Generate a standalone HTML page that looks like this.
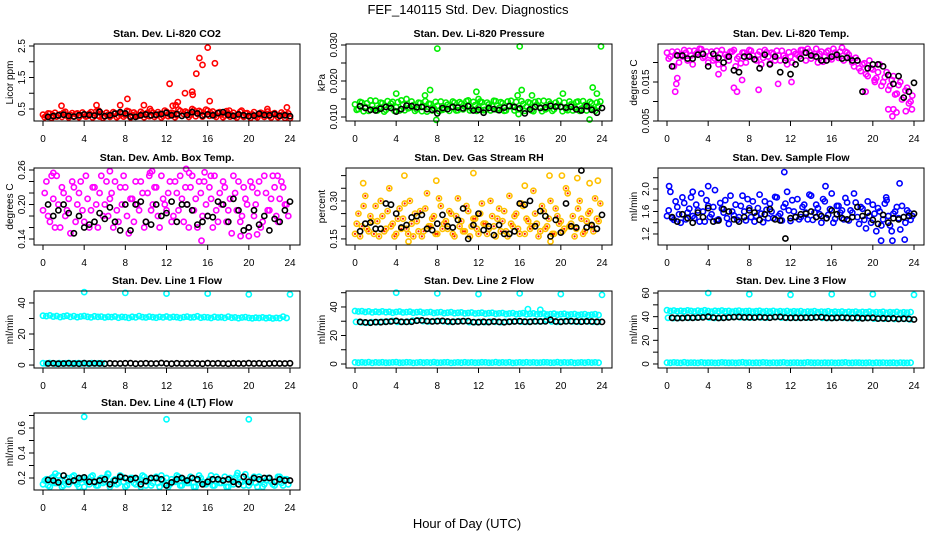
<!DOCTYPE html>
<html><head><meta charset="utf-8"><title>FEF_140115 Std. Dev. Diagnostics</title>
<style>
html,body{margin:0;padding:0;background:#fff;}
svg{display:block;font-family:"Liberation Sans",Arial,sans-serif;}
</style></head>
<body>
<svg id="chart" width="936" height="540" viewBox="0 0 936 540" xmlns="http://www.w3.org/2000/svg">
<rect x="0" y="0" width="936" height="540" fill="#fff"/>
<text x="468" y="14" font-size="13" text-anchor="middle">FEF_140115  Std. Dev. Diagnostics</text>
<text x="467" y="528" font-size="13" text-anchor="middle">Hour of Day (UTC)</text>
<g id="panels"></g>
</svg>
<script>
// ---------- DATA ----------
const xTicks = [0,4,8,12,16,20,24];

const co2Red = [0.32,0.28,0.35,0.30,0.26,0.33,0.38,0.29,0.31,0.27,0.36,0.30,0.33,0.28,0.40,0.31,0.29,0.35,0.27,0.32,0.30,0.37,0.28,0.34,0.31,0.42,0.30,0.33,0.29,0.36,0.31,0.27,0.38,0.30,0.34,0.28,0.41,0.32,0.36,0.30,0.44,0.34,0.39,0.31,0.46,0.35,0.40,0.33,0.45,0.36,0.30,0.38,0.33,0.29,0.35,0.31,0.28,0.34,0.30,0.36,0.29,0.33,0.27,0.32,0.35,0.30,0.28,0.34,0.31,0.29,0.33,0.30];
const co2RedB = [0.24,0.36,0.22,0.38,0.30,0.25,0.41,0.23,0.37,0.34,0.24,0.39,0.26,0.35,0.23,0.42,0.26,0.22,0.38,0.25,0.40,0.24,0.36,0.26,0.44,0.23,0.39,0.27,0.41,0.24,0.38,0.43,0.25,0.40,0.23,0.45,0.27,0.38,0.24,0.48,0.28,0.42,0.25,0.50,0.27,0.44,0.26,0.48,0.28,0.42,0.25,0.40,0.24,0.43,0.26,0.38,0.23,0.41,0.25,0.37,0.22,0.40,0.24,0.38,0.25,0.42,0.23,0.37,0.24,0.39,0.22,0.36];
const co2OutHours = [1.8,5.2,5.4,7.5,8.2,9.8,10.4,12.3,12.6,12.9,13.1,13.8,14.5,14.55,14.9,15.2,15.5,16.0,16.2,16.7,18.1,19.3,21.8,23.7,24.0];
const co2OutVals = [0.6,0.62,0.45,0.62,0.82,0.62,0.5,1.3,0.6,0.62,0.72,1.0,1.05,0.95,1.62,2.12,1.9,2.45,0.75,1.95,0.45,0.45,0.5,0.55,0.2];
const co2Black = [0.25,0.27,0.30,0.32,0.28,0.26,0.30,0.33,0.31,0.29,0.41,0.27,0.30,0.35,0.40,0.36,0.26,0.25,0.30,0.33,0.30,0.32,0.34,0.38,0.30,0.34,0.28,0.31,0.40,0.36,0.29,0.33,0.30,0.37,0.40,0.31,0.28,0.33,0.30,0.27,0.29,0.35,0.31,0.30,0.34,0.28,0.30,0.27];

const presGreen = [0.0135,0.0122,0.0140,0.0128,0.0117,0.0132,0.0145,0.0125,0.0138,0.0120,0.0130,0.0142,0.0127,0.0118,0.0135,0.0150,0.0126,0.0133,0.0121,0.0139,0.0128,0.0115,0.0136,0.0124,0.0131,0.0143,0.0122,0.0134,0.0126,0.0140,0.0119,0.0137,0.0129,0.0146,0.0123,0.0133,0.0127,0.0141,0.0120,0.0135,0.0130,0.0144,0.0125,0.0138,0.0118,0.0132,0.0128,0.0142,0.0122,0.0136,0.0129,0.0139,0.0116,0.0134,0.0127,0.0145,0.0124,0.0137,0.0121,0.0131,0.0128,0.0140,0.0119,0.0135,0.0126,0.0143,0.0123,0.0133,0.0129,0.0138,0.0117,0.0130];
const presGreenB = [0.0120,0.0142,0.0116,0.0138,0.0146,0.0121,0.0118,0.0140,0.0115,0.0144,0.0137,0.0117,0.0141,0.0146,0.0119,0.0124,0.0143,0.0117,0.0140,0.0116,0.0144,0.0137,0.0118,0.0142,0.0116,0.0120,0.0140,0.0117,0.0143,0.0118,0.0141,0.0121,0.0144,0.0118,0.0142,0.0117,0.0143,0.0119,0.0140,0.0118,0.0145,0.0120,0.0141,0.0117,0.0143,0.0145,0.0118,0.0121,0.0144,0.0117,0.0141,0.0118,0.0142,0.0144,0.0116,0.0121,0.0143,0.0117,0.0140,0.0145,0.0116,0.0122,0.0143,0.0118,0.0141,0.0117,0.0144,0.0118,0.0142,0.0121,0.0140,0.0143];
const presOutHours = [4.0,6.8,7.3,8.0,7.9,11.8,12.0,15.8,15.9,16.0,16.2,17.2,20.2,22.8,23.1,23.5,23.9];
const presOutVals = [0.0165,0.0160,0.0175,0.0290,0.0092,0.0170,0.0150,0.0160,0.0108,0.0296,0.0175,0.0160,0.0165,0.0093,0.0182,0.0165,0.0296];
const presBlack = [0.0130,0.0125,0.0120,0.0118,0.0123,0.0128,0.0125,0.0115,0.0122,0.0132,0.0130,0.0127,0.0128,0.0122,0.0120,0.0110,0.0125,0.0122,0.0128,0.0126,0.0124,0.0130,0.0118,0.0120,0.0112,0.0125,0.0122,0.0119,0.0126,0.0130,0.0128,0.0124,0.0110,0.0121,0.0128,0.0125,0.0127,0.0131,0.0129,0.0128,0.0126,0.0128,0.0121,0.0118,0.0130,0.0120,0.0112,0.0125];

const tempMagA = [0.0225,0.0215,0.0190,0.0228,0.0220,0.0232,0.0205,0.0218,0.0230,0.0226,0.0234,0.0215,0.0200,0.0228,0.0210,0.0195,0.0232,0.0220,0.0205,0.0228,0.0190,0.0215,0.0225,0.0200,0.0232,0.0218,0.0205,0.0228,0.0212,0.0226,0.0198,0.0222,0.0230,0.0205,0.0218,0.0195,0.0215,0.0228,0.0220,0.0232,0.0225,0.0235,0.0210,0.0222,0.0200,0.0228,0.0215,0.0230,0.0208,0.0225,0.0212,0.0238,0.0228,0.0220,0.0200,0.0212,0.0185,0.0195,0.0170,0.0205,0.0182,0.0160,0.0195,0.0150,0.0175,0.0140,0.0165,0.0120,0.0150,0.0110,0.0135,0.0100];
const tempMagB = [0.0210,0.0228,0.0220,0.0200,0.0215,0.0225,0.0230,0.0195,0.0222,0.0235,0.0212,0.0228,0.0218,0.0205,0.0230,0.0222,0.0185,0.0215,0.0228,0.0232,0.0210,0.0198,0.0225,0.0218,0.0230,0.0208,0.0220,0.0195,0.0232,0.0215,0.0225,0.0205,0.0218,0.0230,0.0212,0.0226,0.0200,0.0222,0.0215,0.0232,0.0205,0.0228,0.0218,0.0235,0.0222,0.0202,0.0226,0.0212,0.0235,0.0218,0.0228,0.0205,0.0225,0.0210,0.0190,0.0205,0.0178,0.0198,0.0165,0.0185,0.0155,0.0175,0.0140,0.0162,0.0130,0.0155,0.0118,0.0142,0.0105,0.0128,0.0095,0.0115];
const tempOutHours = [0.8,0.9,1.0,5.0,6.5,6.8,7.3,8.9,10.8,12.1,19.3,20.2,21.5,21.9,22.0,22.3,23.2,23.8];
const tempOutVals = [0.0125,0.0145,0.0160,0.0170,0.0135,0.0125,0.0155,0.0130,0.0145,0.0150,0.0125,0.0150,0.0080,0.0062,0.0080,0.0072,0.0075,0.0080];
const tempBlack = [0.019,0.0218,0.0218,0.021,0.021,0.022,0.0222,0.019,0.0222,0.0212,0.020,0.0215,0.018,0.0175,0.0215,0.0215,0.0208,0.0185,0.022,0.0195,0.0215,0.0175,0.0205,0.017,0.0195,0.021,0.0225,0.0218,0.0215,0.0205,0.0205,0.0215,0.022,0.021,0.0212,0.0205,0.0205,0.0125,0.0185,0.0195,0.0195,0.019,0.0168,0.0145,0.0165,0.011,0.0125,0.0148];

const ambMagA = [0.19,0.24,0.17,0.21,0.25,0.16,0.22,0.19,0.15,0.23,0.20,0.24,0.17,0.21,0.19,0.23,0.16,0.25,0.20,0.18,0.22,0.24,0.17,0.20,0.23,0.15,0.21,0.24,0.19,0.22,0.17,0.25,0.20,0.23,0.16,0.21,0.19,0.24,0.18,0.22,0.25,0.17,0.20,0.23,0.19,0.16,0.22,0.24,0.18,0.21,0.25,0.17,0.20,0.23,0.19,0.15,0.22,0.24,0.18,0.21,0.16,0.23,0.20,0.24,0.17,0.22,0.19,0.25,0.18,0.21,0.23,0.20];
const ambMagB = [0.22,0.18,0.25,0.16,0.20,0.23,0.18,0.21,0.24,0.17,0.22,0.19,0.25,0.16,0.23,0.20,0.22,0.18,0.24,0.21,0.16,0.19,0.23,0.25,0.18,0.21,0.17,0.20,0.24,0.16,0.22,0.19,0.23,0.18,0.25,0.20,0.22,0.17,0.24,0.19,0.21,0.23,0.16,0.25,0.21,0.24,0.18,0.20,0.23,0.16,0.19,0.22,0.24,0.17,0.21,0.25,0.19,0.17,0.23,0.20,0.24,0.18,0.22,0.16,0.25,0.19,0.21,0.23,0.17,0.24,0.20,0.18];
const ambOutHours = [1.0,6.5,10.4,10.6,13.9,14.2,15.7,15.4,19.2,22.8,20.0,20.8,16.3];
const ambOutVals = [0.255,0.258,0.255,0.258,0.262,0.255,0.256,0.137,0.145,0.250,0.145,0.148,0.25];
const ambBlack = [0.20,0.18,0.19,0.20,0.185,0.15,0.18,0.16,0.165,0.17,0.185,0.175,0.195,0.17,0.155,0.20,0.155,0.20,0.205,0.17,0.165,0.20,0.18,0.185,0.205,0.17,0.20,0.20,0.19,0.165,0.17,0.18,0.178,0.205,0.20,0.17,0.21,0.19,0.155,0.16,0.19,0.165,0.18,0.155,0.175,0.17,0.19,0.205];

const rhOrgA = [0.17,0.25,0.20,0.32,0.18,0.22,0.28,0.16,0.24,0.19,0.35,0.21,0.17,0.27,0.23,0.19,0.30,0.16,0.22,0.26,0.18,0.33,0.20,0.24,0.17,0.28,0.21,0.19,0.25,0.16,0.31,0.22,0.18,0.26,0.20,0.23,0.17,0.29,0.21,0.19,0.24,0.16,0.27,0.22,0.18,0.32,0.20,0.25,0.17,0.28,0.23,0.19,0.34,0.21,0.18,0.26,0.20,0.30,0.17,0.24,0.22,0.19,0.33,0.21,0.16,0.27,0.23,0.18,0.25,0.20,0.31,0.22];
const rhOrgB = [0.21,0.16,0.28,0.19,0.24,0.17,0.22,0.30,0.18,0.26,0.20,0.16,0.23,0.19,0.29,0.17,0.21,0.25,0.18,0.16,0.27,0.20,0.23,0.17,0.31,0.19,0.22,0.26,0.17,0.24,0.20,0.18,0.28,0.16,0.23,0.19,0.25,0.21,0.17,0.30,0.20,0.23,0.18,0.26,0.16,0.21,0.24,0.19,0.29,0.17,0.22,0.20,0.25,0.16,0.28,0.19,0.23,0.17,0.27,0.21,0.18,0.35,0.20,0.24,0.19,0.30,0.17,0.22,0.26,0.18,0.23,0.29];
const rhOutHours = [0.8,4.8,7.9,11.5,16.5,18.9,20.1,21.6,22.8,23.6,5.2,19.0];
const rhOutVals = [0.37,0.40,0.38,0.41,0.36,0.40,0.40,0.39,0.37,0.38,0.14,0.14];
const rhBlack = [0.18,0.21,0.215,0.19,0.19,0.29,0.285,0.25,0.195,0.205,0.235,0.24,0.245,0.19,0.185,0.21,0.245,0.20,0.195,0.225,0.27,0.15,0.205,0.25,0.185,0.20,0.165,0.205,0.17,0.17,0.18,0.29,0.285,0.30,0.20,0.26,0.24,0.16,0.225,0.175,0.29,0.20,0.195,0.42,0.195,0.205,0.19,0.245];

const flowBlueA = [1.52,1.95,1.45,1.68,1.40,1.75,1.58,1.85,1.48,1.62,1.92,1.42,1.70,1.55,1.98,1.46,1.65,1.80,1.38,1.60,1.72,1.50,1.88,1.44,1.66,1.78,1.52,1.90,1.41,1.63,1.74,1.48,1.85,1.56,1.68,1.95,1.43,1.60,1.82,1.50,1.72,1.46,1.88,1.58,1.66,1.40,1.78,1.54,1.92,1.47,1.70,1.62,1.84,1.44,1.58,1.76,1.38,1.65,1.30,1.52,1.72,1.25,1.60,1.46,1.80,1.35,1.56,1.68,1.28,1.50,1.62,1.45];
const flowBlueB = [1.62,1.48,1.78,1.55,1.85,1.46,1.65,1.52,1.72,1.42,1.60,1.80,1.50,1.68,1.44,1.75,1.58,1.48,1.88,1.53,1.45,1.70,1.60,1.82,1.50,1.42,1.66,1.56,1.78,1.48,1.60,1.86,1.52,1.44,1.74,1.62,1.80,1.50,1.46,1.68,1.58,1.90,1.45,1.72,1.55,1.82,1.48,1.64,1.40,1.70,1.58,1.46,1.76,1.62,1.92,1.50,1.68,1.45,1.78,1.40,1.56,1.66,1.35,1.74,1.52,1.25,1.60,1.48,1.70,1.40,1.58,1.52];
const flowOutHours = [0.2,11.4,4.0,15.4,20.8,21.9,22.6,23.1,21.3,2.5];
const flowOutVals = [2.05,2.30,2.05,2.05,1.08,1.08,2.10,1.10,1.85,1.95];
const flowBlack = [1.50,1.42,1.55,1.48,1.40,1.58,1.50,1.66,1.42,1.44,1.64,1.60,1.46,1.42,1.50,1.62,1.58,1.45,1.55,1.64,1.46,1.44,1.12,1.48,1.50,1.55,1.56,1.60,1.50,1.52,1.48,1.62,1.55,1.48,1.46,1.50,1.68,1.52,1.58,1.45,1.38,1.54,1.40,1.48,1.46,1.50,1.52,1.56];

const line1High = [31.8,31.5,32.0,31.2,31.6,30.9,31.4,31.8,31.0,31.5,30.8,31.3,31.6,31.1,30.7,31.4,31.0,31.2,30.6,31.1,30.9,31.3,30.5,31.0,30.8,30.4,31.1,30.7,31.5,30.9,30.6,31.2,30.8,30.5,31.0,30.7,31.3,30.6,31.0,30.8,30.4,30.9,31.2,30.6,30.8,31.4,30.5,30.9,30.7,30.3,31.0,30.6,30.8,30.4,31.2,30.5,30.7,30.2,30.6,30.9,30.4,30.1,30.5,30.3,30.7,30.2,30.5,30.0,30.4,30.2,31.2,30.3];
const line1Low = [1.2,1.0,1.3,1.1,0.9,1.2,1.0,1.1,1.3,0.9,1.1,1.2,1.0,1.1,0.9,1.2,1.0,1.1,1.2,0.9];
const line1OutHours = [4,8,12,16,20,24];
const line1OutVals = [47,46.5,46,46,45.5,45.5];
const line1Black = [1.0,1.1,0.9,1.0,1.1,1.0,0.9,1.2,1.0,1.1,1.0,0.9,1.1,1.0,1.0,1.1,1.2,0.9,1.0,1.1,1.0,1.0,1.3,1.0,0.9,1.1,1.0,1.0,1.1,1.0,0.9,1.2,1.0,1.1,1.0,0.9,1.1,1.0,1.0,1.2,1.0,1.1,0.9,1.0,1.1,1.0,1.0,1.1];

const line2High = [37.2,36.8,37.0,36.5,36.9,36.2,36.7,36.4,36.9,36.3,36.6,36.0,36.5,36.8,36.1,36.4,36.7,36.0,36.3,36.6,35.9,36.2,36.5,35.8,36.1,36.4,35.7,36.0,36.3,35.6,35.9,36.2,35.5,35.8,36.1,35.4,35.7,36.0,35.3,35.6,35.9,35.2,35.5,35.8,35.1,35.4,35.7,35.0,35.3,35.6,34.9,35.2,35.5,34.8,35.1,35.4,34.7,35.0,35.3,34.6,34.9,35.2,34.5,34.8,35.1,34.4,34.7,35.0,34.3,34.6,34.9,34.4];
const line2Low = [1.1,0.9,1.2,1.0,1.3,0.8,1.1,1.0,1.2,0.9,1.0,1.1,1.3,0.9,1.0,1.2,1.1,0.8,1.0,1.2,0.9,1.1,1.0,1.3,0.9,1.0,1.1,1.2,0.8,1.0,1.1,0.9,1.2,1.0,1.1,0.9,1.0,1.2,1.1,0.9,1.0,1.3,0.9,1.1,1.0,1.2,0.8,1.0,1.1,0.9,1.2,1.0,1.1,0.9,1.0,1.2,1.1,0.9,1.0,1.3,0.9,1.1,1.0,1.2,0.8,1.0,1.1,0.9,1.2,1.0,1.1,0.9];
const line2OutHours = [4,8,12,16,20,24,16.8,18.0];
const line2OutVals = [50,49.5,49,49.5,49,48.5,38.5,38];
const line2Black = [29.5,29.2,29.0,29.4,29.3,29.6,29.8,30.2,29.6,29.5,29.7,30.4,30.6,30.1,29.8,30.0,30.2,29.9,29.6,29.8,30.0,30.1,29.4,29.3,29.6,29.4,29.8,29.5,29.3,29.6,29.8,30.0,29.7,29.6,29.9,29.8,29.9,31.0,29.8,29.6,29.9,30.0,29.8,29.7,29.9,29.8,29.6,29.5];

const line3High = [45.5,44.8,45.2,44.5,45.0,44.6,45.3,44.9,44.4,45.1,44.7,45.4,44.8,44.3,45.0,44.6,45.2,44.5,44.9,44.2,44.8,45.1,44.4,44.7,44.9,44.3,44.6,45.0,44.2,44.7,44.4,44.9,44.1,44.6,44.3,44.8,44.0,44.5,44.2,44.7,43.9,44.4,44.1,44.6,43.8,44.3,44.0,44.5,43.7,44.2,43.9,44.4,43.6,44.1,43.8,44.3,43.5,44.0,43.7,44.2,43.4,43.9,43.6,44.1,43.3,43.8,43.5,44.0,43.2,43.7,43.4,43.9];
const line3Low = [1.2,1.0,1.3,1.1,0.9,1.4,1.0,1.2,1.1,0.9,1.3,1.0,1.1,1.2,0.9,1.0,1.3,1.1,1.0,1.2,0.9,1.1,1.4,1.0,1.2,0.9,1.1,1.0,1.3,1.1,0.9,1.2,1.0,1.1,1.3,0.9,1.0,1.2,1.1,0.9,1.0,1.3,1.1,1.0,1.2,0.9,1.1,1.0,1.2,0.9,1.0,1.1,1.3,0.9,1.0,1.2,1.1,0.9,1.0,1.2,0.8,1.1,1.0,1.2,0.9,1.0,1.1,0.8,1.2,1.0,0.9,1.1];
const line3OutHours = [4,8,12,16,20,24];
const line3OutVals = [60,59,58.5,59,59,58.5];
const line3Black = [39.0,38.8,38.9,39.1,39.0,39.2,39.4,40.0,39.2,38.9,39.0,39.3,39.6,39.8,39.4,39.5,39.2,39.6,39.3,39.1,39.6,39.8,39.2,39.0,39.1,39.0,39.2,39.1,39.4,39.6,39.0,38.9,39.0,39.2,39.0,38.8,39.1,38.6,38.9,39.0,38.4,38.6,38.3,38.5,38.0,38.3,38.1,37.6];

const line4CyanA = [0.15,0.19,0.13,0.21,0.16,0.18,0.14,0.20,0.17,0.22,0.15,0.19,0.13,0.18,0.21,0.16,0.14,0.20,0.17,0.23,0.15,0.19,0.16,0.21,0.13,0.18,0.20,0.15,0.17,0.22,0.14,0.19,0.16,0.21,0.13,0.18,0.20,0.15,0.17,0.22,0.14,0.19,0.16,0.21,0.13,0.18,0.20,0.15,0.17,0.22,0.14,0.19,0.16,0.21,0.13,0.18,0.20,0.15,0.17,0.23,0.14,0.19,0.16,0.21,0.13,0.18,0.20,0.15,0.17,0.21,0.14,0.19];
const line4CyanB = [0.18,0.14,0.20,0.16,0.22,0.13,0.19,0.15,0.21,0.17,0.13,0.20,0.18,0.15,0.22,0.14,0.19,0.16,0.21,0.13,0.18,0.15,0.22,0.17,0.14,0.20,0.16,0.19,0.13,0.21,0.17,0.14,0.20,0.16,0.22,0.15,0.13,0.19,0.17,0.21,0.14,0.18,0.16,0.20,0.13,0.22,0.17,0.15,0.19,0.14,0.21,0.16,0.18,0.13,0.20,0.15,0.22,0.17,0.14,0.19,0.16,0.21,0.13,0.18,0.15,0.20,0.17,0.14,0.21,0.16,0.19,0.15];
const line4OutHours = [4,12,20,18.9,6.3,1.2];
const line4OutVals = [0.69,0.67,0.67,0.24,0.235,0.235];
const line4Black = [0.185,0.18,0.165,0.22,0.17,0.18,0.2,0.205,0.17,0.17,0.18,0.19,0.15,0.18,0.21,0.2,0.19,0.2,0.15,0.175,0.2,0.2,0.19,0.14,0.165,0.19,0.2,0.18,0.2,0.19,0.15,0.17,0.19,0.19,0.18,0.19,0.17,0.15,0.21,0.17,0.2,0.19,0.2,0.2,0.17,0.19,0.18,0.18];

// ---------- LAYOUT ----------
const colLeft = [34, 346, 658];
const rowTop = [44, 168, 291, 413];
const boxW = 266, boxH = 77;

const panels = [
  {name:'co2', title:'Stan. Dev. Li-820 CO2', ylab:'Licor ppm', col:0,row:0, yMin:0.119,yMax:2.563, ticks:[0.5,1.0,1.5,2.0,2.5], labels:[0.5,1.5,2.5], fmt:1, color:'#ff0000',
   series:[co2Red,co2RedB], outH:co2OutHours, outV:co2OutVals, black:co2Black},
  {name:'pressure', title:'Stan. Dev. Li-820 Pressure', ylab:'kPa', col:1,row:0, yMin:0.00889,yMax:0.03028, ticks:[0.010,0.015,0.020,0.025,0.030], labels:[0.010,0.020,0.030], fmt:3, color:'#00ee00',
   series:[presGreen,presGreenB], outH:presOutHours, outV:presOutVals, black:presBlack},
  {name:'temp', title:'Stan. Dev. Li-820 Temp.', ylab:'degrees C', col:2,row:0, yMin:0.005,yMax:0.02474, ticks:[0.005,0.010,0.015,0.020], labels:[0.005,0.015], fmt:3, color:'#ff00ff',
   series:[tempMagA,tempMagB], outH:tempOutHours, outV:tempOutVals, black:tempBlack},
  {name:'amb-temp', title:'Stan. Dev. Amb. Box Temp.', ylab:'degrees C', col:0,row:1, yMin:0.1296,yMax:0.2635, ticks:[0.14,0.16,0.18,0.20,0.22,0.24,0.26], labels:[0.14,0.20,0.26], fmt:2, color:'#ff00ff',
   series:[ambMagA,ambMagB], outH:ambOutHours, outV:ambOutVals, black:ambBlack},
  {name:'rh', title:'Stan. Dev. Gas Stream RH', ylab:'percent', col:1,row:1, yMin:0.126,yMax:0.430, ticks:[0.15,0.20,0.25,0.30,0.35,0.40], labels:[0.15,0.30], fmt:2, color:'#ffc000', inner:'#ff2000',
   series:[rhOrgA,rhOrgB], outH:rhOutHours, outV:rhOutVals, black:rhBlack},
  {name:'sample-flow', title:'Stan. Dev. Sample Flow', ylab:'ml/min', col:2,row:1, yMin:1.004,yMax:2.373, ticks:[1.2,1.4,1.6,1.8,2.0,2.2], labels:[1.2,1.6,2.0], fmt:1, color:'#0000ff',
   series:[flowBlueA,flowBlueB], outH:flowOutHours, outV:flowOutVals, black:flowBlack},
  {name:'line1-flow', title:'Stan. Dev. Line 1 Flow', ylab:'ml/min', col:0,row:2, yMin:-1.9,yMax:47.7, ticks:[0,10,20,30,40], labels:[0,20,40], fmt:0, color:'#00ffff',
   series:[line1High], lowSeries:line1Low, lowSpan:6.3, outH:line1OutHours, outV:line1OutVals, black:line1Black},
  {name:'line2-flow', title:'Stan. Dev. Line 2 Flow', ylab:'ml/min', col:1,row:2, yMin:-2.8,yMax:51.2, ticks:[0,10,20,30,40,50], labels:[0,20,40], fmt:0, color:'#00ffff',
   series:[line2High], lowSeries:line2Low, lowSpan:24, midSeries:line2Black, outH:line2OutHours, outV:line2OutVals, black:line2Black},
  {name:'line3-flow', title:'Stan. Dev. Line 3 Flow', ylab:'ml/min', col:2,row:2, yMin:-3.4,yMax:61.7, ticks:[0,10,20,30,40,50,60], labels:[0,20,40,60], fmt:0, color:'#00ffff',
   series:[line3High], lowSeries:line3Low, lowSpan:24, midSeries:line3Black, outH:line3OutHours, outV:line3OutVals, black:line3Black},
  {name:'line4-flow', title:'Stan. Dev. Line 4 (LT) Flow', ylab:'ml/min', col:0,row:3, yMin:0.104,yMax:0.72, ticks:[0.2,0.3,0.4,0.5,0.6,0.7], labels:[0.2,0.4,0.6], fmt:1, color:'#00ffff',
   series:[line4CyanA,line4CyanB], outH:line4OutHours, outV:line4OutVals, black:line4Black}
];

const NS = 'http://www.w3.org/2000/svg';
const root = document.getElementById('panels');
function mk(tag, attrs, parent){
  const e = document.createElementNS(NS, tag);
  for (const k in attrs) e.setAttribute(k, attrs[k]);
  parent.appendChild(e);
  return e;
}
const R = 2.6, SW = 1.6;

panels.forEach(p => {
  const L = colLeft[p.col], T = rowTop[p.row], B = T + boxH;
  const xs = h => L + 9 + h * (247 / 24);
  const ys = v => B - (v - p.yMin) / (p.yMax - p.yMin) * boxH;
  const g = mk('g', {}, root);
  
  

  const t = mk('text', {x: L + boxW/2, y: T - 7, 'font-size': 10.5, 'font-weight': 'bold', 'text-anchor': 'middle'}, g);
  
  
  t.textContent = p.title;

  const pts = mk('g', {fill: 'none'}, g);
  
  
  function dot(h, v, col, nm){
    const c = mk('circle', {cx: xs(h).toFixed(1), cy: ys(v).toFixed(1), r: R, stroke: col, 'stroke-width': SW}, pts);
    
    
  }
  if (p.lowSeries) {
    const n = p.lowSeries.length;
    p.lowSeries.forEach((v, i) => dot(i * p.lowSpan / n, v, p.color, p.name + '-low-point'));
  }
  if (p.midSeries) {
    p.midSeries.forEach((v, i) => dot(0.1 + i * 0.5, v, p.color, p.name + '-mid-point'));
  }
  p.series.forEach((arr, si) => {
    const n = arr.length;
    arr.forEach((v, i) => dot(i * 24 / n + si * 12 / n, v, p.color, p.name + '-point'));
  });
  p.outH.forEach((h, i) => dot(h, p.outV[i], p.color, p.name + '-outlier'));
  if (p.inner) {
    p.series.forEach((arr, si) => {
      const n = arr.length;
      arr.forEach((v, i) => {
        const c = mk('circle', {cx: xs(i * 24 / n + si * 12 / n).toFixed(1), cy: ys(v).toFixed(1), r: 1.1, fill: p.inner}, pts);
        
        
      });
    });
  }
  p.black.forEach((v, i) => dot(0.5 + i * 0.5, v, '#000', p.name + '-black-point'));

  const box = mk('rect', {x: L, y: T, width: boxW, height: boxH, fill: 'none', stroke: '#000', 'stroke-width': 1}, g);
  
  

  const xa = mk('g', {}, g);
  
  
  mk('line', {x1: xs(xTicks[0]), x2: xs(xTicks[xTicks.length-1]), y1: B, y2: B, stroke: '#000'}, xa);
  xTicks.forEach(h => {
    mk('line', {x1: xs(h), x2: xs(h), y1: B, y2: B + 5, stroke: '#000'}, xa);
    const lt = mk('text', {x: xs(h), y: B + 21, 'font-size': 10, 'text-anchor': 'middle'}, xa);
    
    
    lt.textContent = h;
  });

  const ya = mk('g', {}, g);
  
  
  mk('line', {x1: L, x2: L, y1: ys(p.ticks[0]), y2: ys(p.ticks[p.ticks.length-1]), stroke: '#000'}, ya);
  p.ticks.forEach(v => mk('line', {x1: L - 5, x2: L, y1: ys(v), y2: ys(v), stroke: '#000'}, ya));
  p.labels.forEach(v => {
    const yy = ys(v);
    const lt = mk('text', {x: L - 9, y: yy, 'font-size': 10, 'text-anchor': 'middle', transform: `rotate(-90 ${L - 9} ${yy})`}, ya);
    
    
    lt.textContent = v.toFixed(p.fmt);
  });
  const yl = mk('text', {x: L - 21, y: T + boxH/2, 'font-size': 10, 'text-anchor': 'middle', transform: `rotate(-90 ${L - 21} ${T + boxH/2})`}, ya);
  
  
  yl.textContent = p.ylab;
});
</script>
</body></html>
